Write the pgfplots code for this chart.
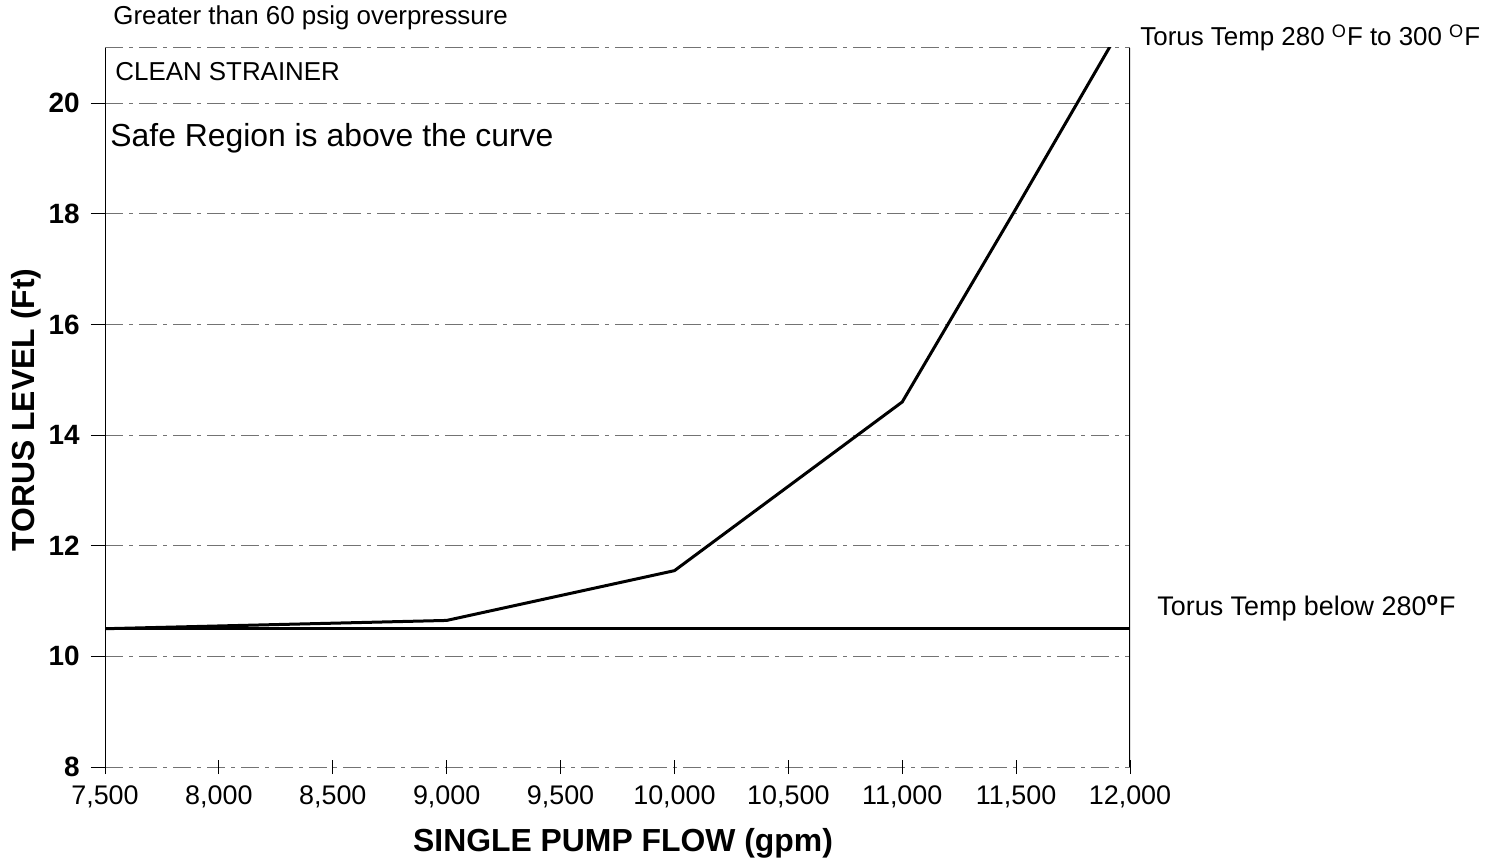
\documentclass[border=0pt]{standalone}
\usepackage{fontspec}
\setmainfont{Liberation Sans}
\usepackage{pgfplots}
\pgfplotsset{compat=1.18}

% grid / frame style for the horizontal rules
\tikzset{gridrule/.style={black!55, line width=0.5bp, dash pattern=on 9bp off 3bp on 2bp off 3bp}}

\begin{document}
\begin{tikzpicture}
\useasboundingbox (0,0) rectangle (747.5bp,433bp);
\begin{axis}[
  at={(52.5bp,49.5bp)}, anchor=south west,
  scale only axis, width=512.5bp, height=359.5bp,
  xmin=7500, xmax=12000, ymin=8, ymax=21,
  axis line style={draw=none},
  clip=true,
  xtick={7500,8000,...,12000},
  ytick={8,10,...,20},
  xtick pos=bottom, ytick pos=left,
  ymajorgrids,
  major grid style={gridrule},
  tick align=center,
  major tick length=7bp,
  tick style={black, line width=0.5bp},
  y tick style={xshift=-3.5bp},
  /pgf/number format/assume math mode=true,
  /pgf/number format/1000 sep={,},
  scaled x ticks=false,
  xticklabel style={font=\fontsize{13.5}{13.5}\selectfont, anchor=center, yshift=-11.5bp},
  yticklabel style={font=\bfseries\fontsize{14}{14}\selectfont, anchor=east, inner sep=0pt, xshift=-9bp},
  xlabel={SINGLE PUMP FLOW (gpm)},
  ylabel={TORUS LEVEL (Ft)},
  xlabel style={font=\bfseries\fontsize{16}{16}\selectfont, at={(axis description cs:0.5054,-0.1057)}, anchor=center},
  ylabel style={font=\bfseries\fontsize{16}{16}\selectfont, at={(axis description cs:-0.0771,0.4965)}, anchor=center, rotate=0},
]
% frame: solid sides, dashed top
\draw[black, line width=0.9bp] (rel axis cs:0,0) -- (rel axis cs:0,1);
\draw[black, line width=0.9bp] (rel axis cs:1,0) -- (rel axis cs:1,1);
\draw[gridrule] (rel axis cs:0,1) -- (rel axis cs:1,1);

% Torus temp 280 F to 300 F
\addplot[black, line width=1.5bp] coordinates {
  (7500,10.5) (9000,10.65) (10000,11.55) (11000,14.6) (11500,18.1) (12000,21.65)
};
% Torus temp below 280 F
\addplot[black, line width=1.5bp] coordinates {
  (7500,10.5) (12000,10.5)
};
\end{axis}

\node[anchor=west, inner sep=0pt, font=\fontsize{13}{13}\selectfont] at (56.5bp,424bp) {Greater than 60 psig overpressure};
\node[anchor=west, inner sep=0pt, font=\fontsize{13}{13}\selectfont] at (57.5bp,397bp) {CLEAN STRAINER};
\node[anchor=west, inner sep=0pt, font=\fontsize{16}{16}\selectfont] at (55bp,364bp) {Safe Region is above the curve};
\node[anchor=west, inner sep=0pt, font=\fontsize{13}{13}\selectfont] at (570bp,414bp) {Torus Temp 280 \textsuperscript{O}F to 300 \textsuperscript{O}F};
\node[anchor=west, inner sep=0pt, font=\fontsize{13.5}{13.5}\selectfont] at (578.5bp,129bp) {Torus Temp below 280\textsuperscript{\bfseries o}F};
\end{tikzpicture}
\end{document}
